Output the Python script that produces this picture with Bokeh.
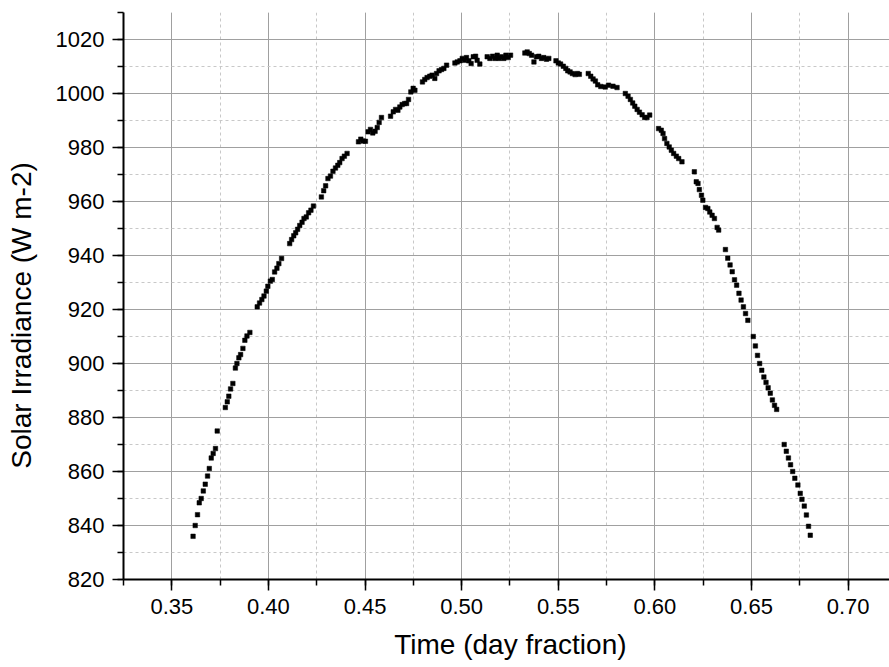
from bokeh.plotting import figure
from bokeh.models import SingleIntervalTicker, PrintfTickFormatter, Range1d
from bokeh.embed import file_html
from bokeh.resources import INLINE

time_frac = [
    0.3610, 0.3621, 0.3633, 0.3642, 0.3652, 0.3663, 0.3673, 0.3685, 0.3694, 0.3704,
    0.3714, 0.3726, 0.3735, 0.3777, 0.3787, 0.3795, 0.3804, 0.3816, 0.3829, 0.3837,
    0.3847, 0.3856, 0.3868, 0.3878, 0.3889, 0.3904, 0.3942, 0.3954, 0.3966, 0.3977,
    0.3989, 0.3997, 0.4010, 0.4020, 0.4032, 0.4044, 0.4054, 0.4068, 0.4110, 0.4120,
    0.4131, 0.4141, 0.4151, 0.4162, 0.4174, 0.4184, 0.4196, 0.4208, 0.4220, 0.4233,
    0.4274, 0.4286, 0.4296, 0.4308, 0.4321, 0.4334, 0.4347, 0.4359, 0.4369, 0.4381,
    0.4393, 0.4407, 0.4466, 0.4478, 0.4490, 0.4502, 0.4516, 0.4528, 0.4540, 0.4552,
    0.4563, 0.4573, 0.4585, 0.4632, 0.4646, 0.4658, 0.4670, 0.4680, 0.4692, 0.4705,
    0.4715, 0.4725, 0.4737, 0.4749, 0.4758, 0.4797, 0.4809, 0.4821, 0.4835, 0.4847,
    0.4861, 0.4870, 0.4883, 0.4896, 0.4908, 0.4922, 0.4965, 0.4977, 0.4991, 0.5003,
    0.5015, 0.5025, 0.5037, 0.5049, 0.5060, 0.5072, 0.5080, 0.5094, 0.5132, 0.5146,
    0.5160, 0.5172, 0.5184, 0.5194, 0.5206, 0.5218, 0.5229, 0.5241, 0.5253, 0.5327,
    0.5339, 0.5350, 0.5362, 0.5374, 0.5387, 0.5399, 0.5413, 0.5425, 0.5439, 0.5451,
    0.5488, 0.5500, 0.5512, 0.5526, 0.5539, 0.5549, 0.5561, 0.5573, 0.5587, 0.5599,
    0.5609, 0.5655, 0.5668, 0.5680, 0.5692, 0.5704, 0.5720, 0.5743, 0.5760, 0.5783,
    0.5804, 0.5847, 0.5861, 0.5873, 0.5885, 0.5896, 0.5908, 0.5920, 0.5934, 0.5947,
    0.5959, 0.5973, 0.6019, 0.6033, 0.6042, 0.6050, 0.6062, 0.6074, 0.6085, 0.6097,
    0.6111, 0.6123, 0.6140, 0.6204, 0.6214, 0.6223, 0.6230, 0.6241, 0.6248, 0.6262,
    0.6274, 0.6284, 0.6296, 0.6308, 0.6322, 0.6330, 0.6365, 0.6377, 0.6389, 0.6400,
    0.6412, 0.6423, 0.6435, 0.6446, 0.6458, 0.6469, 0.6481, 0.6509, 0.6520, 0.6531,
    0.6542, 0.6553, 0.6564, 0.6575, 0.6586, 0.6597, 0.6608, 0.6619, 0.6630, 0.6669,
    0.6680, 0.6691, 0.6702, 0.6713, 0.6724, 0.6740, 0.6752, 0.6761, 0.6773, 0.6784,
    0.6795, 0.6804,
]

irradiance = [
    836.0, 840.0, 844.0, 848.4, 850.0, 852.8, 855.3, 858.3, 861.1, 865.0,
    866.7, 868.5, 875.0, 883.7, 885.8, 887.9, 890.6, 892.6, 898.3, 900.0,
    902.1, 903.3, 905.6, 908.6, 910.2, 911.5, 921.0, 922.4, 923.7, 925.0,
    926.8, 928.6, 930.5, 931.1, 933.9, 935.3, 937.0, 938.9, 944.4, 945.9,
    947.3, 948.4, 949.7, 951.1, 952.3, 953.7, 954.3, 955.8, 956.8, 958.3,
    961.7, 964.0, 965.8, 968.5, 969.4, 971.2, 972.4, 973.4, 974.4, 975.9,
    976.8, 977.8, 982.1, 983.1, 982.4, 982.3, 985.8, 986.7, 985.4, 986.0,
    987.4, 989.3, 991.1, 991.6, 993.2, 994.1, 993.8, 995.0, 995.9, 996.3,
    996.3, 997.8, 1000.6, 1001.9, 1001.2, 1004.3, 1005.2, 1005.9, 1006.4, 1006.8,
    1005.6, 1007.4, 1008.4, 1008.9, 1009.3, 1010.5, 1011.3, 1011.7, 1012.1, 1013.0,
    1012.3, 1013.3, 1012.1, 1011.1, 1013.6, 1013.8, 1012.3, 1010.9, 1013.6, 1013.0,
    1013.8, 1013.0, 1014.2, 1013.0, 1013.6, 1013.0, 1014.2, 1013.3, 1014.2, 1015.0,
    1015.4, 1014.8, 1014.2, 1011.7, 1013.6, 1013.8, 1013.0, 1013.3, 1012.7, 1013.0,
    1012.1, 1011.3, 1010.9, 1010.1, 1009.3, 1008.4, 1008.0, 1007.4, 1007.0, 1007.4,
    1007.1, 1007.4, 1006.4, 1005.4, 1004.6, 1003.2, 1002.6, 1002.4, 1003.1, 1002.7,
    1002.2, 1000.0, 999.0, 997.8, 996.5, 995.3, 994.1, 993.1, 992.1, 991.1,
    991.1, 992.0, 987.0, 986.4, 985.2, 983.3, 981.5, 980.2, 979.0, 977.8,
    976.8, 975.9, 974.7, 971.0, 967.3, 966.7, 964.4, 962.3, 960.5, 957.8,
    957.4, 956.1, 954.9, 953.7, 950.4, 949.4, 942.2, 939.0, 936.5, 934.0,
    931.0, 929.0, 926.0, 923.5, 921.0, 918.5, 916.0, 910.0, 906.5, 903.0,
    900.0, 897.5, 895.0, 893.0, 891.0, 889.0, 886.5, 884.5, 883.0, 870.0,
    867.5, 865.0, 862.5, 860.0, 857.5, 855.0, 851.9, 849.7, 847.2, 843.9,
    839.7, 836.4,
]

x_label = "Time (day fraction)"
y_label = "Solar Irradiance (W m-2)"

FONT = "Liberation Sans"
NBSP = "\u00a0"

p = figure(width=889, height=667, output_backend="svg", toolbar_location=None,
           x_range=Range1d(0.325, 0.7214), y_range=Range1d(820, 1030),
           min_border_left=123, min_border_right=0, min_border_top=12,
           min_border_bottom=88)
p.outline_line_color = None
p.background_fill_color = "white"
p.border_fill_color = "white"

p.scatter(time_frac, irradiance, marker="square", size=4.5,
          fill_color="black", line_color="black", line_width=0.5)

p.xaxis.ticker = SingleIntervalTicker(interval=0.05, num_minor_ticks=2)
p.yaxis.ticker = SingleIntervalTicker(interval=20, num_minor_ticks=2)
p.xaxis.formatter = PrintfTickFormatter(format="%.2f")

for ax in (p.xaxis, p.yaxis):
    ax.axis_line_color = "black"
    ax.axis_line_width = 2
    ax.major_tick_line_color = "black"
    ax.major_tick_line_width = 1.5
    ax.minor_tick_line_color = "black"
    ax.minor_tick_line_width = 1.5
    ax.major_tick_out = 11
    ax.major_tick_in = 0
    ax.minor_tick_out = 6
    ax.minor_tick_in = 0
    ax.major_label_text_font = FONT
    ax.major_label_text_font_size = "22px"
    ax.major_label_text_color = "black"
    ax.major_label_standoff = 8
    ax.axis_label_text_font = FONT
    ax.axis_label_text_font_size = "28px"
    ax.axis_label_text_font_style = "normal"
    ax.axis_label_text_color = "black"

# the reference titles sit slightly off-centre; non-breaking spaces nudge them
p.xaxis.axis_label = NBSP + x_label
p.yaxis.axis_label = y_label + NBSP * 5
p.xaxis.axis_label_standoff = 12
p.yaxis.axis_label_standoff = 16

for g in (p.xgrid, p.ygrid):
    g.grid_line_color = "#a0a0a0"
    g.grid_line_width = 1
    g.minor_grid_line_color = "#c8c8c8"
    g.minor_grid_line_width = 1
    g.minor_grid_line_dash = "3 3"

open("out.html", "w").write(file_html(p, INLINE))
